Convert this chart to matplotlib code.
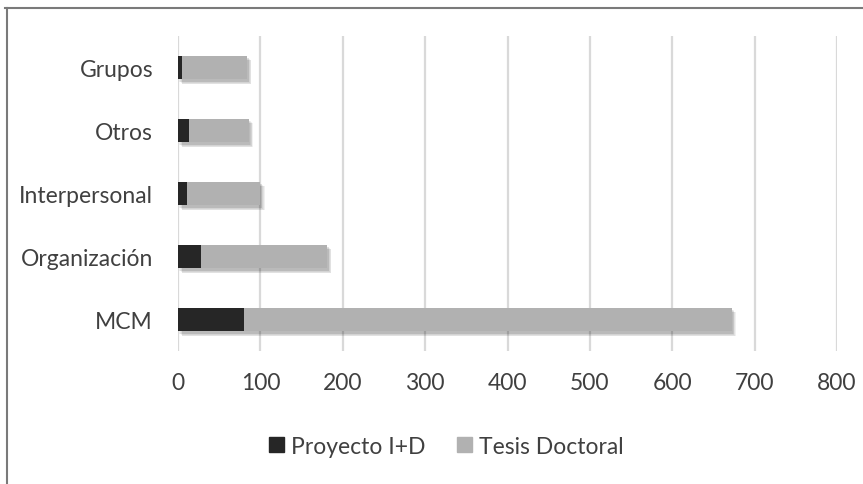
import matplotlib
matplotlib.use('Agg')
import matplotlib.pyplot as plt
import matplotlib.patheffects as pe
from matplotlib.lines import Line2D
from matplotlib.patches import Patch

# Data (bottom to top)
categories = ["MCM", "Organización", "Interpersonal", "Otros", "Grupos"]
proyecto = [80, 28, 11, 13, 5]
tesis = [592, 153, 89, 73, 79]
xticks = [0, 100, 200, 300, 400, 500, 600, 700, 800]

dark = "#262626"
light = "#b1b1b1"
text_col = "#404040"

plt.rcParams['font.family'] = ['Lato', 'DejaVu Sans']

fig = plt.figure(figsize=(8.63, 4.85), dpi=100)
ax = fig.add_axes([0.2063, 0.2742, 0.7636, 0.6495])

# soft drop shadow: a few faint offset copies
shadow = [pe.SimplePatchShadow(offset=(o, -o - 0.5), shadow_rgbFace='black', alpha=0.06)
          for o in (3, 2.5, 2, 1.5, 1)] + [pe.Normal()]
ypos = range(len(categories))
b1 = ax.barh(ypos, proyecto, height=0.38, color=dark, zorder=3)
b2 = ax.barh(ypos, tesis, left=proyecto, height=0.38, color=light, zorder=3)
for b in list(b1) + list(b2):
    b.set_path_effects(shadow)

ax.set_xlim(0, 800)
ax.set_ylim(-0.5, 4.5)
ax.set_xticks(xticks)
ax.set_yticks(list(ypos))
ax.set_yticklabels(categories)
ax.grid(axis='x', color='#d9d9d9', linewidth=1.6, zorder=0)
ax.tick_params(axis='both', length=0, labelsize=16.5, labelcolor=text_col)
ax.tick_params(axis='x', pad=15)
ax.tick_params(axis='y', pad=18)
for s in ax.spines.values():
    s.set_visible(False)

handles = [Patch(color=dark), Patch(color=light)]
fig.legend(handles, ["Proyecto I+D", "Tesis Doctoral"], loc='center',
           bbox_to_anchor=(0.517, 0.078), ncol=2, frameon=False, fontsize=16.5,
           labelcolor=text_col, handlelength=0.65, handleheight=0.65,
           handletextpad=0.3, columnspacing=1.4)

# outer frame (top and left edges)
fig.add_artist(Line2D([5 / 863, 1], [1 - 8.5 / 485] * 2, color='#7a7a7a', linewidth=1.5))
fig.add_artist(Line2D([7 / 863] * 2, [0, 1 - 8.5 / 485], color='#7a7a7a', linewidth=1.5))

fig.savefig("out.png", dpi=100)
